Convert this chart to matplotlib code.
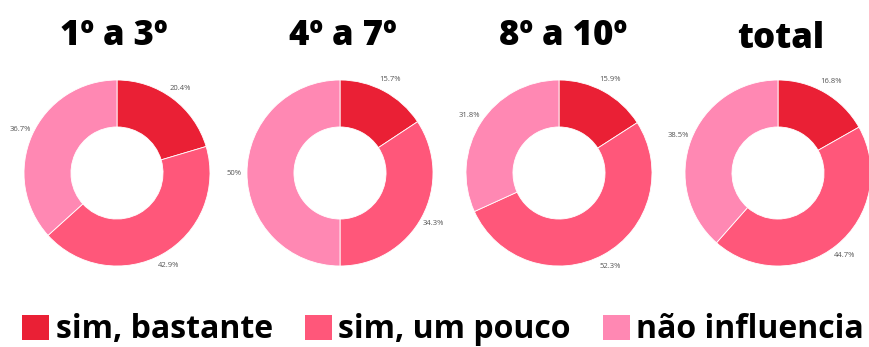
import numpy as np
import matplotlib.pyplot as plt
from matplotlib.patches import Patch

# data
groups = ["1º a 3º", "4º a 7º", "8º a 10º", "total"]
categories = ["sim, bastante", "sim, um pouco", "não influencia"]
bastante = [20.4, 15.7, 15.9, 16.8]
um_pouco = [42.9, 34.3, 52.3, 44.7]
nao_influencia = [36.7, 50.0, 31.8, 38.5]

colors = ["#EA2035", "#FF577A", "#FF88B3"]

W, H = 869, 347
fig = plt.figure(figsize=(W / 100, H / 100), dpi=100)

centers_x = [117, 340, 559, 778]
title_dx = [-3, 3, 4, 3]
cy = 173
R = 93
lim = 1.3

def fmt(v):
    s = "%.1f" % v
    if s.endswith(".0"):
        s = s[:-2]
    return s + "%"

for i, name in enumerate(groups):
    cx = centers_x[i]
    half = lim * R
    ax = fig.add_axes([(cx - half) / W, (H - cy - half) / H, 2 * half / W, 2 * half / H])
    vals = [bastante[i], um_pouco[i], nao_influencia[i]]
    ax.pie(vals, colors=colors, startangle=90, counterclock=False, radius=1,
           wedgeprops=dict(width=0.505, edgecolor="white", linewidth=0.6))
    # percent labels outside the ring
    start = 0
    for v in vals:
        mid = (start + v / 2) / 100 * 2 * np.pi
        start += v
        r = 1.14
        ax.text(r * np.sin(mid), r * np.cos(mid), fmt(v), ha="center", va="center",
                fontsize=5.5, color="#555555", family="Open Sans")
    ax.set_xlim(-lim, lim)
    ax.set_ylim(-lim, lim)
    ax.set_aspect("equal")
    ax.axis("off")

    ty = 48 if name == "total" else 45
    fig.text((cx + title_dx[i]) / W, 1 - ty / H, name, ha="center", va="baseline",
             fontsize=25, fontweight="heavy", family="Open Sans", color="black")

handles = [Patch(facecolor=c, edgecolor="none") for c in colors]
fig.legend(handles, categories, loc="lower center", bbox_to_anchor=(0.51, -0.035),
           ncol=3, frameon=False, prop=dict(family="Open Sans", weight="bold", size=23),
           handlelength=0.85, handleheight=0.85, handletextpad=0.2, columnspacing=1.0,
           borderaxespad=0.0)

fig.savefig("out.png", dpi=100)
